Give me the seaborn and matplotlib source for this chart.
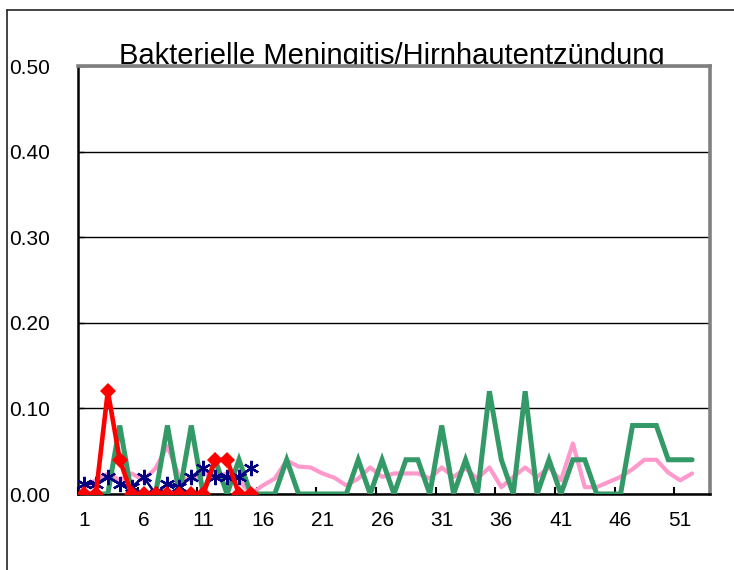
import numpy as np
import pandas as pd
import matplotlib
matplotlib.use("Agg")
import matplotlib.pyplot as plt
from matplotlib.lines import Line2D
from matplotlib.ticker import FixedLocator
import seaborn as sns

# ---------------- data ----------------
title = "Bakterielle Meningitis/Hirnhautentzündung"
weeks = list(range(1, 53))
pink_values = [0.008, 0.016, 0.024, 0.016, 0.024, 0.016, 0.030, 0.056, 0.020, 0.016,
               0.024, 0.020, 0.024, 0.016, 0.000, 0.010, 0.018, 0.039, 0.032, 0.031,
               0.024, 0.019, 0.010, 0.018, 0.031, 0.020, 0.024, 0.024, 0.024, 0.018,
               0.031, 0.020, 0.030, 0.018, 0.031, 0.008, 0.020, 0.031, 0.020, 0.031,
               0.016, 0.059, 0.008, 0.008, 0.014, 0.020, 0.029, 0.040, 0.040, 0.025,
               0.016, 0.024]
green_values = [0.00, 0.00, 0.00, 0.08, 0.00, 0.00, 0.00, 0.08, 0.00, 0.08,
                0.00, 0.04, 0.00, 0.04, 0.00, 0.00, 0.00, 0.04, 0.00, 0.00,
                0.00, 0.00, 0.00, 0.04, 0.00, 0.04, 0.00, 0.04, 0.04, 0.00,
                0.08, 0.00, 0.04, 0.00, 0.12, 0.04, 0.00, 0.12, 0.00, 0.04,
                0.00, 0.04, 0.04, 0.00, 0.00, 0.00, 0.08, 0.08, 0.08, 0.04,
                0.04, 0.04]
cur_weeks = list(range(1, 16))
navy_values = [0.012, 0.012, 0.020, 0.012, 0.008, 0.020, 0.000, 0.012, 0.008, 0.020,
               0.030, 0.020, 0.020, 0.020, 0.030]
red_values = [0.00, 0.00, 0.12, 0.04, 0.00, 0.00, 0.00, 0.00, 0.00, 0.00,
              0.00, 0.04, 0.04, 0.00, 0.00]
y_ticks = [0.0, 0.1, 0.2, 0.3, 0.4, 0.5]
y_labels = ["0.00", "0.10", "0.20", "0.30", "0.40", "0.50"]
x_label_weeks = [1, 6, 11, 16, 21, 26, 31, 36, 41, 46, 51]

# ---------------- style ----------------
sns.set_style("white")
plt.rcParams["font.family"] = ["Liberation Sans", "DejaVu Sans"]

W, H = 734, 570
fig = plt.figure(figsize=(W / 100, H / 100), dpi=100, facecolor="white")
L, R, T, B = 78, 710, 66, 494
ax = fig.add_axes([L / W, 1 - B / H, (R - L) / W, (B - T) / H])
ax.set_facecolor("white")
ax.patch.set_alpha(1.0)

df_pink = pd.DataFrame({"week": weeks, "value": pink_values})
df_green = pd.DataFrame({"week": weeks, "value": green_values})
df_navy = pd.DataFrame({"week": cur_weeks, "value": navy_values})
df_red = pd.DataFrame({"week": cur_weeks, "value": red_values})

sns.lineplot(data=df_pink, x="week", y="value", color="#FF99CC", lw=3.0, ax=ax,
             zorder=2, solid_joinstyle="round")
sns.lineplot(data=df_green, x="week", y="value", color="#339966", lw=3.6, ax=ax,
             zorder=3, solid_joinstyle="miter")
sns.lineplot(data=df_navy, x="week", y="value", color="#000080", lw=1.8, ax=ax,
             zorder=4, marker=(6, 2, 0), markersize=11, markeredgewidth=1.6,
             markeredgecolor="#000080")
sns.lineplot(data=df_red, x="week", y="value", color="#FF0000", lw=3.3, ax=ax,
             zorder=5, marker="D", markersize=8.5, markeredgewidth=0,
             markerfacecolor="#FF0000")

ax.set_xlim(0.5, 53.5)
ax.set_ylim(0, 0.5)
ax.set_xlabel("")
ax.set_ylabel("")

ax.set_yticks(y_ticks)
ax.set_yticklabels(y_labels)
ax.yaxis.grid(True, color="black", lw=1.0)
ax.xaxis.grid(False)
ax.set_axisbelow(True)
ax.tick_params(axis="y", direction="in", length=4, width=1, pad=20,
               labelsize=15, colors="black", left=True)

ax.xaxis.set_major_locator(FixedLocator(x_label_weeks))
ax.set_xticklabels([str(w) for w in x_label_weeks])
ax.xaxis.set_minor_locator(FixedLocator([w - 0.5 for w in x_label_weeks]))
ax.tick_params(axis="x", which="major", length=0, pad=12, labelsize=15,
               colors="black", bottom=True)
ax.tick_params(axis="x", which="minor", direction="in", length=5, width=1.5,
               color="black", bottom=True)

for side in ["left", "bottom"]:
    ax.spines[side].set_color("black")
    ax.spines[side].set_linewidth(1.8)
for side in ["top", "right"]:
    ax.spines[side].set_visible(True)
    ax.spines[side].set_color("#808080")
    ax.spines[side].set_linewidth(2.6)

# title (behind plot area so descenders are hidden, as in the reference)
fig.text((120 + 664) / 2 / W, 1 - 63.5 / H, title, ha="center", va="baseline",
         fontsize=21, color="black", zorder=-1)

# outer chart frame (top and left edges)
fig.add_artist(Line2D([7 / W, 1.0], [1 - 10 / H, 1 - 10 / H],
                      transform=fig.transFigure, color="#222222", lw=1.2))
fig.add_artist(Line2D([7 / W, 7 / W], [0.0, 1 - 10 / H],
                      transform=fig.transFigure, color="#222222", lw=1.2))

fig.savefig("out.png", dpi=100, facecolor="white")
